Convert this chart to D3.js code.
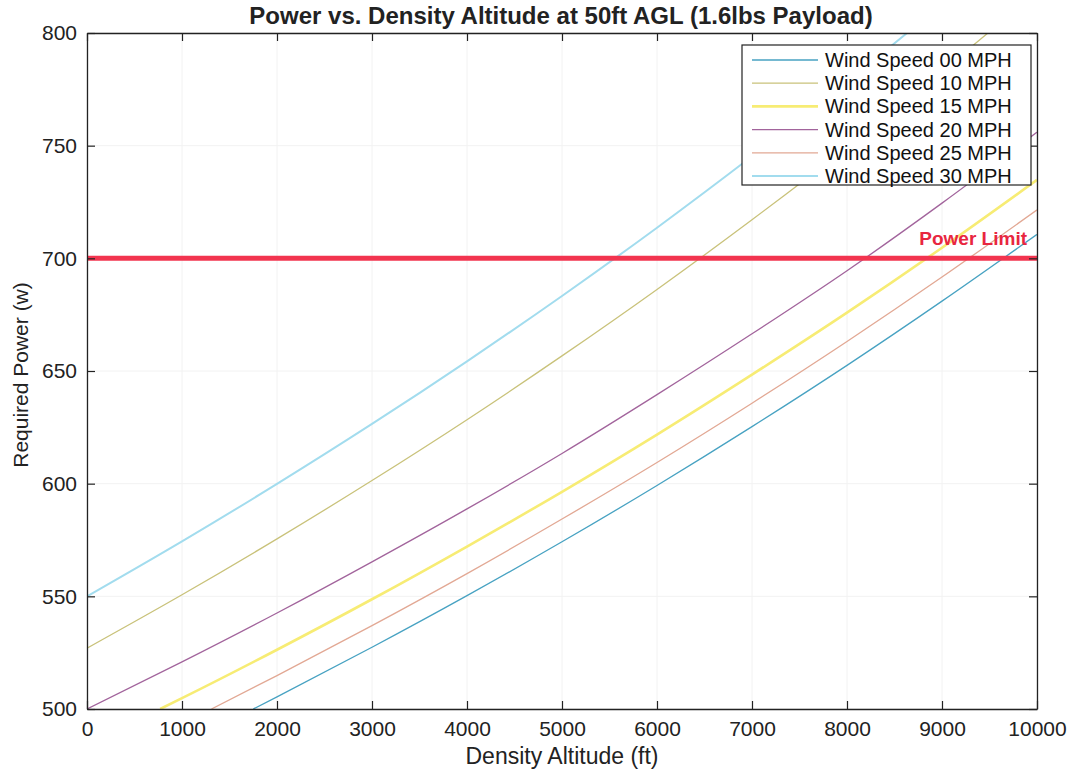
<!DOCTYPE html>
<html>
<head>
<meta charset="utf-8">
<script src="https://cdn.jsdelivr.net/npm/d3@7"></script>
<style>
body{margin:0;background:#fff;}
text{font-family:"Liberation Sans",Arial,sans-serif;fill:#222;}
</style>
</head>
<body>
<div class="content"></div>
<script>
// values
var altitudes = [0,1000,2000,3000,4000,5000,6000,7000,8000,9000,10000];
var speedNames = ["Wind Speed 00 MPH","Wind Speed 10 MPH","Wind Speed 15 MPH","Wind Speed 20 MPH","Wind Speed 25 MPH","Wind Speed 30 MPH"];
var speedColors = ["#47a2c2","#c9c27a","#f7ec74","#a2649c","#e2a894","#a2dcee"];
var speedWidths = [1.3,1.3,2.6,1.3,1.3,2];
// first point of the lower curves sits where they leave the 500 W floor
var ws00 = [[1750,500],[2000,505.4],[3000,527.4],[4000,550.3],[5000,574.2],[6000,599.2],[7000,625.3],[8000,652.5],[9000,681],[10000,710.6]];
var ws10 = [[0,527],[1000,550.7],[2000,575.5],[3000,601.4],[4000,628.4],[5000,656.7],[6000,686.2],[7000,717.1],[8000,749.3],[9000,783.1],[10000,818.3]];
var ws15 = [[770,500],[1000,504.8],[2000,526.3],[3000,548.7],[4000,572.1],[5000,596.4],[6000,621.8],[7000,648.4],[8000,675.9],[9000,704.7],[10000,734.8]];
var ws20 = [[0,500],[1000,520.9],[2000,542.6],[3000,565.3],[4000,588.8],[5000,613.4],[6000,639.5],[7000,666.5],[8000,694.5],[9000,724.5],[10000,756]];
var ws25 = [[1310,500],[2000,514.8],[3000,537],[4000,560.1],[5000,584.3],[6000,609.4],[7000,635.7],[8000,663.1],[9000,691.7],[10000,721.5]];
var ws30 = [[0,550],[1000,574.4],[2000,599.9],[3000,626.5],[4000,654.3],[5000,683.3],[6000,713.6],[7000,745.3],[8000,778.3],[9000,812.8]];
var series = [ws00,ws10,ws15,ws20,ws25,ws30];
var powerTicks = [500,550,600,650,700,750,800];
var powerLimit = 700;

var width = 1076, height = 772;
var mLeft = 87, mRight = 1037, mTop = 33, mBottom = 709;
var svg = d3.select(".content").append("svg").attr("width", width).attr("height", height);

var x = d3.scaleLinear().domain([0,10000]).range([mLeft,mRight]);
var y = d3.scaleLinear().domain([500,800]).range([mBottom,mTop]);

svg.append("defs").append("clipPath").attr("id","plot")
  .append("rect").attr("x",mLeft).attr("y",mTop).attr("width",mRight-mLeft).attr("height",mBottom-mTop);

// faint grid
svg.append("g").selectAll("line").data(altitudes).join("line")
  .attr("x1",d=>x(d)).attr("x2",d=>x(d)).attr("y1",mTop).attr("y2",mBottom)
  .attr("stroke","#f2f2f2").attr("stroke-width",1);
svg.append("g").selectAll("line").data(powerTicks).join("line")
  .attr("x1",mLeft).attr("x2",mRight).attr("y1",d=>y(d)).attr("y2",d=>y(d))
  .attr("stroke","#f2f2f2").attr("stroke-width",1);

var line = d3.line().x(d=>x(d[0])).y(d=>y(d[1])).curve(d3.curveMonotoneX);
var plot = svg.append("g").attr("clip-path","url(#plot)");
series.forEach(function(s,i){
  plot.append("path").datum(s).attr("d",line)
    .attr("fill","none").attr("stroke",speedColors[i]).attr("stroke-width",speedWidths[i]);
});

// power limit
plot.append("line").attr("x1",mLeft).attr("x2",mRight)
  .attr("y1",y(powerLimit)).attr("y2",y(powerLimit))
  .attr("stroke","#f2344f").attr("stroke-width",5);
svg.append("text").attr("x",1027).attr("y",y(powerLimit)-13)
  .attr("text-anchor","end").style("font-size","19px").style("font-weight","bold").style("fill","#e8263f")
  .text("Power Limit");

// axes with inward ticks, box on
var fmt = d3.format("d");
var xa = svg.append("g").attr("transform","translate(0,"+mBottom+")")
  .call(d3.axisBottom(x).tickValues(altitudes).tickFormat(fmt).tickSizeInner(-8).tickSizeOuter(0).tickPadding(12));
var xt = svg.append("g").attr("transform","translate(0,"+mTop+")")
  .call(d3.axisTop(x).tickValues(altitudes).tickFormat("").tickSizeInner(-8).tickSizeOuter(0));
var ya = svg.append("g").attr("transform","translate("+mLeft+",0)")
  .call(d3.axisLeft(y).tickValues(powerTicks).tickFormat(fmt).tickSizeInner(-8).tickSizeOuter(0).tickPadding(10));
var yr = svg.append("g").attr("transform","translate("+mRight+",0)")
  .call(d3.axisRight(y).tickValues(powerTicks).tickFormat("").tickSizeInner(-8).tickSizeOuter(0));
[xa,xt,ya,yr].forEach(function(g){
  g.selectAll("path").attr("stroke","#222").attr("stroke-width",1.3);
  g.selectAll("line").attr("stroke","#222").attr("stroke-width",1.2);
  g.selectAll("text").style("font-size","21px").style("fill","#222").style("font-family","Liberation Sans, Arial, sans-serif");
});

// title and labels
svg.append("text").attr("x",561).attr("y",24).attr("text-anchor","middle")
  .style("font-size","24px").style("font-weight","bold")
  .text("Power vs. Density Altitude at 50ft AGL (1.6lbs Payload)");
svg.append("text").attr("x",562).attr("y",764).attr("text-anchor","middle")
  .style("font-size","23px").text("Density Altitude (ft)");
svg.append("text").attr("transform","translate(28,375) rotate(-90)").attr("text-anchor","middle")
  .style("font-size","21px").text("Required Power (w)");

// legend
var lg = svg.append("g");
lg.append("rect").attr("x",742).attr("y",45).attr("width",289).attr("height",140)
  .attr("fill","#fff").attr("stroke","#222").attr("stroke-width",1.2);
speedNames.forEach(function(n,i){
  var ly = 60 + i*23.2;
  lg.append("line").attr("x1",752).attr("x2",818).attr("y1",ly).attr("y2",ly)
    .attr("stroke",speedColors[i]).attr("stroke-width",speedWidths[i]);
  lg.append("text").attr("x",825).attr("y",ly+7).style("font-size","20px").style("fill","#111").text(n);
});
</script>
</body>
</html>
